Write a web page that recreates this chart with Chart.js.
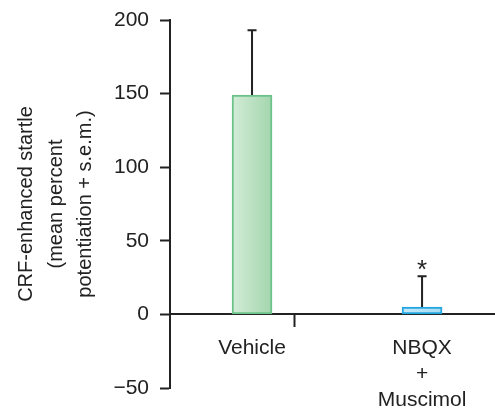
<!DOCTYPE html>
<html>
<head>
<meta charset="utf-8">
<script src="https://cdn.jsdelivr.net/npm/chart.js@4/dist/chart.umd.min.js"></script>
<style>
  html, body { margin: 0; padding: 0; background: #ffffff; }
  #wrap { width: 495px; height: 408px; position: relative; }
</style>
</head>
<body>
<div id="wrap"><canvas id="c"></canvas></div>
<script>
// Treatment groups (multi-line label for the combined infusion)
const categories = ['Vehicle', ['NBQX', '+', 'Muscimol']];
// Mean percent potentiation of startle and its s.e.m.
const means = [149, 5];
const sem = [44, 21];
// Significance marks drawn above the error bars
const marks = ['', '*'];
// Y axis tick values
const yTicks = [-50, 0, 50, 100, 150, 200];

const positions = categories.map((c, i) => i + 1);
const INK = '#222222';
const FONT = 'Liberation Sans';

const fills = [
  ['#d3ecd7', '#a3d6ad'],
  ['#c4e8f8', '#a5dcf3']
];
const borders = ['#6cc38a', '#23a6e0'];

function barFill(ctx) {
  const chart = ctx.chart;
  const i = ctx.dataIndex;
  const xs = chart.scales && chart.scales.x;
  if (!chart.chartArea || !xs || i === undefined) return fills[0][1];
  const cx = xs.getPixelForValue(positions[i]);
  const g = chart.ctx.createLinearGradient(cx - 20, 0, cx + 20, 0);
  g.addColorStop(0, fills[i][0]);
  g.addColorStop(1, fills[i][1]);
  return g;
}

// Error bars (upper half only) and significance marks
const errorBars = {
  id: 'errorBars',
  afterDatasetsDraw(chart) {
    const meta = chart.getDatasetMeta(0);
    const y = chart.scales.y;
    const c = chart.ctx;
    c.save();
    c.strokeStyle = INK;
    c.fillStyle = INK;
    c.lineWidth = 2;
    meta.data.forEach((bar, i) => {
      const top = y.getPixelForValue(means[i] + sem[i]);
      c.beginPath();
      c.moveTo(bar.x, bar.y);
      c.lineTo(bar.x, top);
      c.moveTo(bar.x - 4.5, top);
      c.lineTo(bar.x + 4.5, top);
      c.stroke();
      if (marks[i]) {
        c.font = '26px "' + FONT + '"';
        c.textAlign = 'center';
        c.textBaseline = 'alphabetic';
        c.fillText(marks[i], bar.x, top + 2);
      }
    });
    c.restore();
  }
};

new Chart(document.getElementById('c'), {
  type: 'bar',
  data: {
    datasets: [{
      data: positions.map((p, i) => ({ x: p, y: means[i] })),
      backgroundColor: barFill,
      borderColor: borders,
      borderWidth: 2,
      borderSkipped: false,
      barThickness: 40
    }]
  },
  options: {
    responsive: true,
    maintainAspectRatio: false,
    animation: false,
    layout: { padding: { top: 20, bottom: 20, left: 0, right: 0 } },
    plugins: {
      legend: { display: false },
      tooltip: { enabled: false }
    },
    scales: {
      x: {
        type: 'linear',
        position: { y: 0 },
        min: 0.5176,
        max: 2.429,
        offset: false,
        afterBuildTicks(scale) {
          scale.ticks = [{ value: 1 }, { value: 1.5 }, { value: 2 }];
        },
        ticks: {
          autoSkip: false,
          maxRotation: 0,
          padding: 9,
          color: INK,
          font: { family: FONT, size: 21, lineHeight: 26 / 21 },
          callback(v) {
            const i = positions.indexOf(v);
            return i >= 0 ? categories[i] : '';
          }
        },
        grid: {
          drawOnChartArea: false,
          drawTicks: true,
          tickLength: 12,
          tickWidth: 2,
          tickColor: (ctx) => (ctx.tick && ctx.tick.value === 1.5 ? INK : 'rgba(0,0,0,0)')
        },
        border: { display: true, color: INK, width: 2 }
      },
      y: {
        min: -50,
        max: 200,
        afterFit(scale) {
          scale.width = 170;
          scale.paddingTop = 0;
          scale.paddingBottom = 0;
        },
        afterBuildTicks(scale) {
          scale.ticks = yTicks.map(v => ({ value: v }));
        },
        ticks: {
          padding: 11,
          color: INK,
          font: { family: FONT, size: 21 },
          callback: (v) => (v < 0 ? '\u2212' + Math.abs(v) : String(v))
        },
        grid: {
          drawOnChartArea: false,
          drawTicks: true,
          tickLength: 10,
          tickWidth: 2,
          tickColor: INK
        },
        border: { display: true, color: INK, width: 2 },
        title: {
          display: true,
          text: ['CRF-enhanced startle', '(mean percent', 'potentiation + s.e.m.)'],
          color: INK,
          font: { family: FONT, size: 20, lineHeight: 29.5 / 20 },
          padding: { top: 12, bottom: 0 }
        }
      }
    }
  },
  plugins: [errorBars]
});
</script>
</body>
</html>
